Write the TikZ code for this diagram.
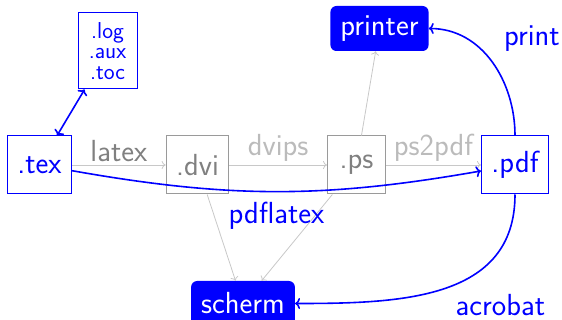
\documentclass[tikz,border=0pt]{standalone}
\usepackage{fontspec}
\usetikzlibrary{arrows.meta}
\definecolor{boxgrey}{HTML}{9A9A9A}
\definecolor{txtgrey}{HTML}{808080}
\definecolor{linegrey}{HTML}{C8C8C8}
\definecolor{lblgrey}{HTML}{BBBBBB}
\tikzset{
  base/.style={font=\sffamily\fontsize{30.5}{32}\selectfont},
  filebox/.style={base, draw=blue, line width=1pt, text=blue,
    minimum width=58pt, minimum height=58pt, inner xsep=10pt, inner ysep=0pt},
  greybox/.style={filebox, draw=boxgrey, text=txtgrey},
  devbox/.style={base, fill=blue, text=white, rounded corners=6pt,
    minimum height=45pt, inner xsep=10pt, inner ysep=0pt},
  auxbox/.style={draw=blue, line width=1pt, text=blue, align=center,
    font=\sffamily\fontsize{23}{20.5}\selectfont,
    minimum width=59pt, minimum height=76pt, inner sep=0pt},
  faint/.style={draw=linegrey, line width=0.8pt, -{To[length=4pt,width=8pt]}},
  strong/.style={draw=blue, line width=1.6pt, -{To[length=5pt,width=11pt]}},
  lbl/.style={base, text=lblgrey},
  bluelbl/.style={base, text=blue},
}
\begin{document}
\begin{tikzpicture}
\useasboundingbox (0,0) rectangle (562pt,-320pt);

% files and devices
\node[filebox] (tex) at (39.5pt,-165pt) {.tex};
\node[auxbox] (log) at (107.5pt,-51pt) {.log\\.aux\\.toc};
\node[greybox] (dvi) at (197.5pt,-165pt) {.dvi};
\node[greybox] (ps) at (356.5pt,-165pt) {.ps};
\node[filebox] (pdf) at (515pt,-165pt) {.pdf};
\node[devbox] (printer) at (379.5pt,-28.5pt) {printer};
\node[devbox] (scherm) at (243pt,-303.5pt) {scherm};

% classic latex route
\draw[faint] (tex) -- node[lbl, above, text=txtgrey] {latex} (dvi);
\draw[faint] (dvi) -- node[lbl, above] {dvips} (ps);
\draw[faint] (ps) -- node[lbl, above] {ps2pdf} (pdf);
\draw[faint] (ps) -- (printer);
\draw[faint] (dvi) -- (scherm);
\draw[faint] (ps) -- (scherm);

% pdflatex route
\draw[strong, {To[length=5pt,width=11pt]}-{To[length=5pt,width=11pt]}] (tex) -- (log);
\draw[strong] (tex) to[bend right=10] node[bluelbl, below=6pt] {pdflatex} (pdf);
\draw[strong] (pdf) to[out=90, in=0]
  node[bluelbl, above right, xshift=8pt, yshift=6pt] {print} (printer);
\draw[strong] (pdf) to[out=-90, in=0, looseness=1.1]
  node[bluelbl, below right, xshift=7pt, yshift=-1.5pt] {acrobat} (scherm);
\end{tikzpicture}
\end{document}
